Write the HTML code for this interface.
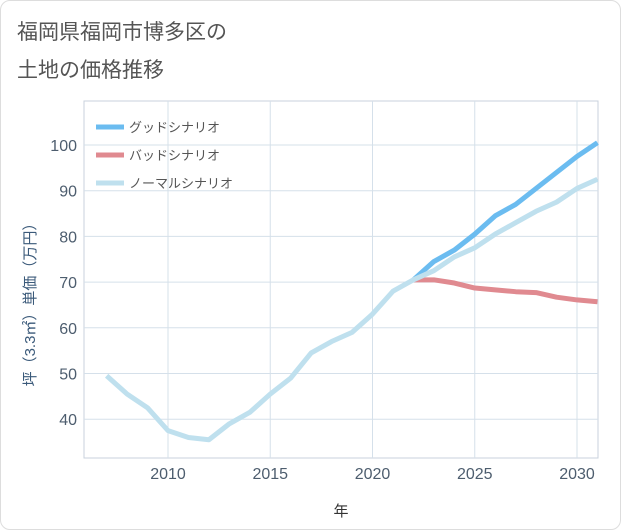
<!DOCTYPE html>
<html><head><meta charset="utf-8"><style>
body{margin:0;background:#fff;font-family:"Liberation Sans","Noto Sans CJK JP",sans-serif}
#wrap{position:relative;width:619px;height:528px;border:1px solid #ddd;border-radius:10px;overflow:hidden}
</style></head><body>
<div id="wrap">
<svg id="c" width="621" height="530">
<text x="16" y="38" font-size="21" fill="#555">福岡県福岡市博多区の</text>
<text x="16" y="76" font-size="21" fill="#555">土地の価格推移</text>
<rect x="83" y="100" width="514" height="357" fill="#fff" stroke="#c8d2dc"/>
<g id="grid"></g><g id="ticks"></g><g id="lines"></g>
<text x="340" y="515" font-size="15" fill="#333" text-anchor="middle">年</text>
<text transform="translate(34,300) rotate(-90)" font-size="15" fill="#3b5a7a" text-anchor="middle">坪（3.3㎡）単価（万円）</text>
<g id="legend"></g>
</svg></div>
<script>
const years=[2007,2008,2009,2010,2011,2012,2013,2014,2015,2016,2017,2018,2019,2020,2021,2022,2023,2024,2025,2026,2027,2028,2029,2030,2031];
const normal=[49.5,45.5,42.5,37.5,36,35.5,39,41.5,45.5,49,54.5,57,59,63,68,70.5,72.5,75.5,77.5,80.5,83,85.5,87.5,90.5,92.5];
const goodYears=[2022,2023,2024,2025,2026,2027,2028,2029,2030,2031];
const good=[70.5,74.5,77,80.5,84.5,87,90.5,94,97.5,100.5];
const bad=[70.5,70.5,69.8,68.7,68.3,67.9,67.7,66.7,66.1,65.7];
const xTicks=[2010,2015,2020,2025,2030];
const yTicks=[40,50,60,70,80,90,100];
const X=y=>167+(y-2010)*20.45;
const Y=v=>144+(100-v)*4.57;
const NS="http://www.w3.org/2000/svg";
function mk(t,a,p){const e=document.createElementNS(NS,t);for(const k in a)e.setAttribute(k,a[k]);document.getElementById(p).appendChild(e);return e;}
xTicks.forEach(t=>{
const l=mk('line',{x1:X(t),x2:X(t),y1:100,y2:457,stroke:'#d5e0ea'},'grid');


const tx=mk('text',{x:X(t),y:478,'font-size':16,fill:'#4d5d6e','text-anchor':'middle'},'ticks');tx.textContent=t;


});
yTicks.forEach(t=>{
const l=mk('line',{x1:83,x2:597,y1:Y(t),y2:Y(t),stroke:'#d5e0ea'},'grid');


const tx=mk('text',{x:76,y:Y(t)+6,'font-size':16,fill:'#4d5d6e','text-anchor':'end'},'ticks');tx.textContent=t;


});
function line(xs,vs,c,n){const p=mk('polyline',{points:xs.map((y,i)=>X(y)+','+Y(vs[i])).join(' '),fill:'none',stroke:c,'stroke-width':5,'stroke-linejoin':'round'},'lines');

}
line(goodYears,good,'#6bbcf0','good-scenario-line');
line(goodYears,bad,'#e08a90','bad-scenario-line');
line(years,normal,'#bfe0ee','normal-scenario-line');
[['グッドシナリオ','#6bbcf0'],['バッドシナリオ','#e08a90'],['ノーマルシナリオ','#bfe0ee']].forEach((d,i)=>{
const y=126+i*28;
const l=mk('line',{x1:95,x2:123,y1:y,y2:y,stroke:d[1],'stroke-width':5},'legend');


const t=mk('text',{x:128,y:y+5,'font-size':13,fill:'#555'},'legend');t.textContent=d[0];


});
</script>
</body></html>
